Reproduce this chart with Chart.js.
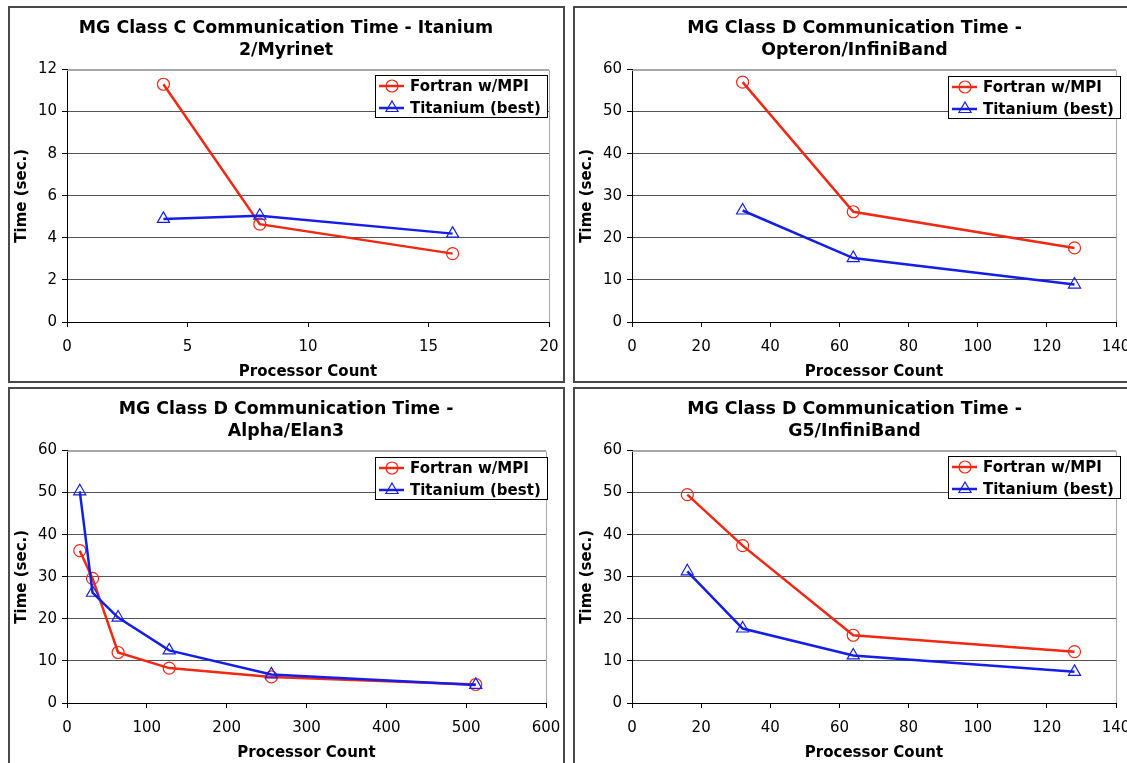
<!DOCTYPE html>
<html>
<head>
<meta charset="utf-8">
<script src="https://cdn.jsdelivr.net/npm/chart.js@4.4.1/dist/chart.umd.min.js"></script>
<style>
body { margin: 0; background: #fff; width: 1127px; height: 763px; overflow: hidden; position: relative; }
.panel { position: absolute; }
.panel canvas { display: block; }
.frame { position: absolute; border: 2px solid #4a4a4a; box-sizing: border-box; pointer-events: none; }
</style>
</head>
<body>
<div class="panel" style="left:8px;top:6px"><canvas id="c1" width="556" height="377"></canvas></div>
<div class="panel" style="left:573px;top:6px"><canvas id="c2" width="563" height="377"></canvas></div>
<div class="panel" style="left:8px;top:387px"><canvas id="c3" width="556" height="380"></canvas></div>
<div class="panel" style="left:573px;top:387px"><canvas id="c4" width="563" height="380"></canvas></div>
<div class="frame" style="left:8px;top:6px;width:557px;height:377px"></div>
<div class="frame" style="left:573px;top:6px;width:600px;height:377px"></div>
<div class="frame" style="left:8px;top:387px;width:557px;height:400px"></div>
<div class="frame" style="left:573px;top:387px;width:600px;height:400px"></div>
<script>
// series names
var seriesNames = ['Fortran w/MPI', 'Titanium (best)'];

// Itanium 2 / Myrinet (class C)
var itaniumProcs = [4, 8, 16];
var itaniumFortran = [11.3, 4.65, 3.25];
var itaniumTitanium = [4.9, 5.05, 4.2];

// Opteron / InfiniBand
var opteronProcs = [32, 64, 128];
var opteronFortran = [57.0, 26.2, 17.6];
var opteronTitanium = [26.5, 15.2, 8.9];

// Alpha / Elan3
var alphaProcs = [16, 32, 64, 128, 256, 512];
var alphaFortran = [36.2, 29.6, 12.0, 8.3, 6.2, 4.4];
var alphaTitanium = [50.3, 26.2, 20.3, 12.5, 6.8, 4.3];

// G5 / InfiniBand
var g5Procs = [16, 32, 64, 128];
var g5Fortran = [49.5, 37.4, 16.1, 12.2];
var g5Titanium = [31.3, 17.7, 11.3, 7.4];

// axis ranges [min, max, step]
var itaniumX = [0, 20, 5], itaniumY = [0, 12, 2];
var opteronX = [0, 140, 20], opteronY = [0, 60, 10];
var alphaX = [0, 600, 100], alphaY = [0, 60, 10];
var g5X = [0, 140, 20], g5Y = [0, 60, 10];

var FONT = '"DejaVu Sans", Verdana, sans-serif';
var RED = '#f02814';
var BLUE = '#141ee6';
var GRID = '#555';

// gray frame on top and right of the plot
var plotFrame = {
	id: 'plotFrame',
	beforeDatasetsDraw: function(chart) {
		var a = chart.chartArea, ctx = chart.ctx;
		var r = Math.round(a.right) + 0.5, t = Math.round(a.top) + 0.5;
		ctx.save();
		ctx.strokeStyle = '#a8a8a8';
		ctx.lineWidth = 1;
		ctx.beginPath();
		ctx.moveTo(r, Math.round(a.bottom));
		ctx.lineTo(r, t);
		ctx.lineTo(Math.round(a.left), t);
		ctx.stroke();
		ctx.restore();
	}
};

// boxed legend with line + marker, like the Excel one
var legendBox = {
	id: 'legendBox',
	afterDraw: function(chart, args, opts) {
		var ctx = chart.ctx, a = chart.chartArea;
		var sets = chart.data.datasets;
		ctx.save();
		ctx.font = 'bold 15px ' + FONT;
		var tw = 0;
		sets.forEach(function(d) { tw = Math.max(tw, ctx.measureText(d.label).width); });
		var w = Math.round(35 + tw + 6), h = 42;
		var right = Math.round(a.right + opts.dx);
		var left = right - w, top = Math.round(a.top + opts.dy);
		ctx.fillStyle = '#fff';
		ctx.fillRect(left, top, w, h);
		ctx.strokeStyle = '#000';
		ctx.lineWidth = 1;
		ctx.strokeRect(left + 0.5, top + 0.5, w, h);
		sets.forEach(function(d, i) {
			var y = top + 11 + 22 * i;
			ctx.strokeStyle = d.borderColor;
			ctx.lineWidth = 2.5;
			ctx.beginPath();
			ctx.moveTo(left + 4, y);
			ctx.lineTo(left + 29, y);
			ctx.stroke();
			ctx.lineWidth = d.pointBorderWidth;
			ctx.fillStyle = 'rgba(0,0,0,0)';
			Chart.helpers.drawPoint(ctx, {pointStyle: d.pointStyle, radius: d.pointRadius, borderWidth: d.pointBorderWidth, rotation: 0}, left + 17, y);
			ctx.fillStyle = '#000';
			ctx.textBaseline = 'middle';
			ctx.textAlign = 'left';
			ctx.fillText(d.label, left + 35, y + 1);
		});
		ctx.restore();
	}
};

function pts(xs, ys) {
	return xs.map(function(x, i) { return {x: x, y: ys[i]}; });
}

function makeChart(id, title, procs, fortran, titanium, xr, yr, pad, leg) {
	var ctx = document.getElementById(id).getContext('2d');
	return new Chart(ctx, {
		type: 'line',
		data: {
			datasets: [{
				label: seriesNames[0],
				data: pts(procs, fortran),
				borderColor: RED,
				backgroundColor: 'rgba(0,0,0,0)',
				borderWidth: 2.5,
				pointStyle: 'circle',
				pointRadius: 6,
				pointBorderWidth: 1.2,
				pointBorderColor: RED,
				pointBackgroundColor: 'rgba(0,0,0,0)',
				order: 1
			}, {
				label: seriesNames[1],
				data: pts(procs, titanium),
				borderColor: BLUE,
				backgroundColor: 'rgba(0,0,0,0)',
				borderWidth: 2.5,
				pointStyle: 'triangle',
				pointRadius: 7,
				pointBorderWidth: 1.2,
				pointBorderColor: BLUE,
				pointBackgroundColor: 'rgba(0,0,0,0)',
				order: 0
			}]
		},
		options: {
			responsive: false,
			animation: false,
			devicePixelRatio: 1,
			layout: { padding: { left: 0, right: 0, top: 0, bottom: pad.bottom } },
			plugins: {
				legend: { display: false },
				tooltip: { enabled: false },
				title: {
					display: true,
					text: title,
					color: '#000',
					font: { family: FONT, size: 17.4, weight: 'bold', lineHeight: 1.25 },
					padding: { top: 12, bottom: 8 }
				},
				legendBox: leg
			},
			scales: {
				x: {
					type: 'linear',
					min: xr[0], max: xr[1],
					ticks: { stepSize: xr[2], color: '#000', font: { family: FONT, size: 15 }, padding: 11, maxRotation: 0 },
					grid: { drawOnChartArea: false, drawTicks: true, tickLength: 5, color: '#000' },
					border: { color: '#000', width: 1 },
					title: { display: true, text: 'Processor Count', color: '#000', font: { family: FONT, size: 15, weight: 'bold' }, padding: 0 },
					// room on the right is set here so the title stays centred on the panel
					afterFit: function(s) { s.height = 59; s.paddingLeft = 0; s.paddingRight = pad.right; }
				},
				y: {
					min: yr[0], max: yr[1],
					ticks: { stepSize: yr[2], color: '#000', font: { family: FONT, size: 15 }, padding: 5 },
					grid: {
						color: function(c) { return c.tick && c.tick.value === yr[1] ? '#a8a8a8' : GRID; },
						tickColor: '#000',
						tickLength: 5
					},
					border: { color: '#000', width: 1 },
					title: { display: true, text: 'Time (sec.)', color: '#000', font: { family: FONT, size: 15, weight: 'bold' }, padding: { top: 5, bottom: 0 } },
					afterFit: function(s) { s.width = 59; }
				}
			}
		},
		plugins: [plotFrame, legendBox]
	});
}

makeChart('c1', ['MG Class C Communication Time - Itanium', '2/Myrinet'],
	itaniumProcs, itaniumFortran, itaniumTitanium, itaniumX, itaniumY,
	{ right: 15, bottom: 2 }, { dx: -2, dy: 5 });
makeChart('c2', ['MG Class D Communication Time -', 'Opteron/InfiniBand'],
	opteronProcs, opteronFortran, opteronTitanium, opteronX, opteronY,
	{ right: 20, bottom: 2 }, { dx: 4, dy: 6 });
makeChart('c3', ['MG Class D Communication Time -', 'Alpha/Elan3'],
	alphaProcs, alphaFortran, alphaTitanium, alphaX, alphaY,
	{ right: 18, bottom: 5 }, { dx: 1, dy: 6 });
makeChart('c4', ['MG Class D Communication Time -', 'G5/InfiniBand'],
	g5Procs, g5Fortran, g5Titanium, g5X, g5Y,
	{ right: 20, bottom: 5 }, { dx: 4, dy: 5 });
</script>
</body>
</html>
